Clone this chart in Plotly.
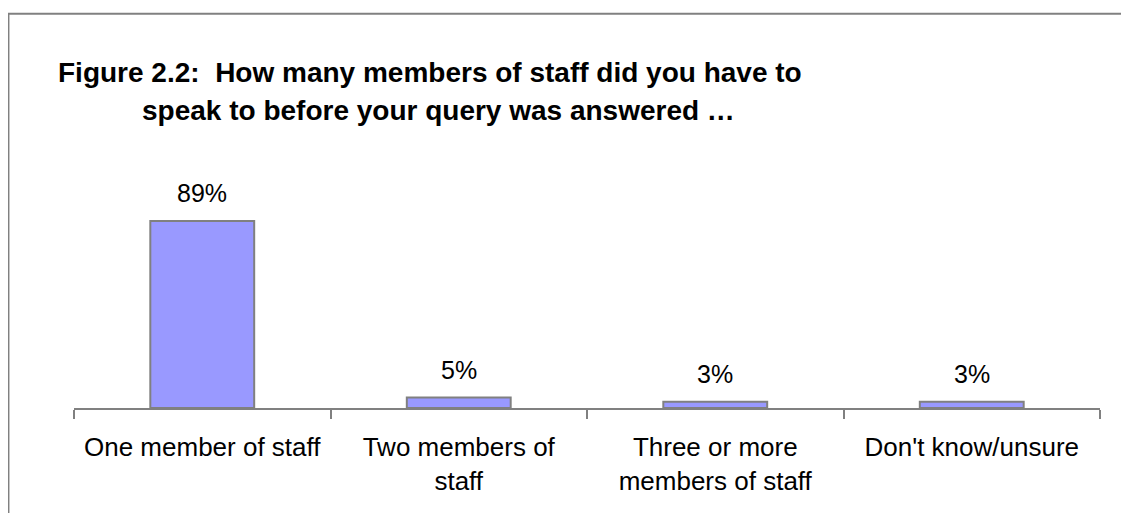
import plotly.graph_objects as go

categories = ["One member of staff", "Two members of<br>staff",
              "Three or more<br>members of staff", "Don't know/unsure"]
values = [89, 5, 3, 3]
value_labels = ["89%", "5%", "3%", "3%"]
title_lines = ["Figure 2.2:  How many members of staff did you have to",
               "speak to before your query was answered \u2026"]

FONT = "Liberation Sans, Arial, sans-serif"

# the page body adds an 8px margin, so the figure is drawn 8px in and down
W, H = 1121, 505
L, R, T, B = 66, 29, 190, 105
plot_w = W - L - R
plot_h = H - T - B


def px_x(p):
    return (p - L) / plot_w


def px_y(p):
    return (H - B - p) / plot_h


fig = go.Figure(go.Bar(
    x=categories,
    y=values,
    width=0.405,
    marker=dict(color="#9999FF", line=dict(color="#808080", width=2)),
    hoverinfo="skip",
))

annotations = []
for cat, v, lab in zip(categories, values, value_labels):
    annotations.append(dict(
        x=cat, y=v, xref="x", yref="y", text=lab, showarrow=False,
        yanchor="bottom", yshift=12,
        font=dict(size=25, color="#000000", family=FONT),
    ))

annotations.append(dict(
    x=px_x(48), y=px_y(65), xref="paper", yref="paper", text="<b>%s</b>" % title_lines[0],
    showarrow=False, xanchor="left", yanchor="middle",
    font=dict(size=28, color="#000000", family=FONT),
))
annotations.append(dict(
    x=px_x(132), y=px_y(103), xref="paper", yref="paper", text="<b>%s</b>" % title_lines[1],
    showarrow=False, xanchor="left", yanchor="middle",
    font=dict(size=28, color="#000000", family=FONT),
))

# outer chart frame (only the left and top edges fall inside the picture)
shapes = [
    dict(type="line", xref="paper", yref="paper", x0=px_x(0), x1=px_x(W + 5),
         y0=px_y(5.7), y1=px_y(5.7), line=dict(color="#808080", width=2)),
    dict(type="line", xref="paper", yref="paper", x0=px_x(0.2), x1=px_x(0.2),
         y0=px_y(5), y1=px_y(H + 5), line=dict(color="#808080", width=2.5)),
]

fig.update_layout(
    width=W, height=H,
    margin=dict(l=L, r=R, t=T, b=B),
    paper_bgcolor="#FFFFFF",
    plot_bgcolor="#FFFFFF",
    font=dict(family=FONT, color="#000000", size=26),
    showlegend=False,
    xaxis=dict(
        type="category",
        range=[-0.5, len(categories) - 0.5],
        tickson="boundaries",
        ticks="outside", ticklen=9, tickwidth=2, tickcolor="#808080",
        ticklabelstandoff=15,
        showline=True, linecolor="#808080", linewidth=2,
        showgrid=False, zeroline=False,
        tickfont=dict(size=26, color="#000000", family=FONT),
        fixedrange=True,
    ),
    yaxis=dict(
        range=[0, 100], visible=False, showgrid=False, zeroline=False, fixedrange=True,
    ),
    annotations=annotations,
    shapes=shapes,
)

fig.write_html("out.html")
